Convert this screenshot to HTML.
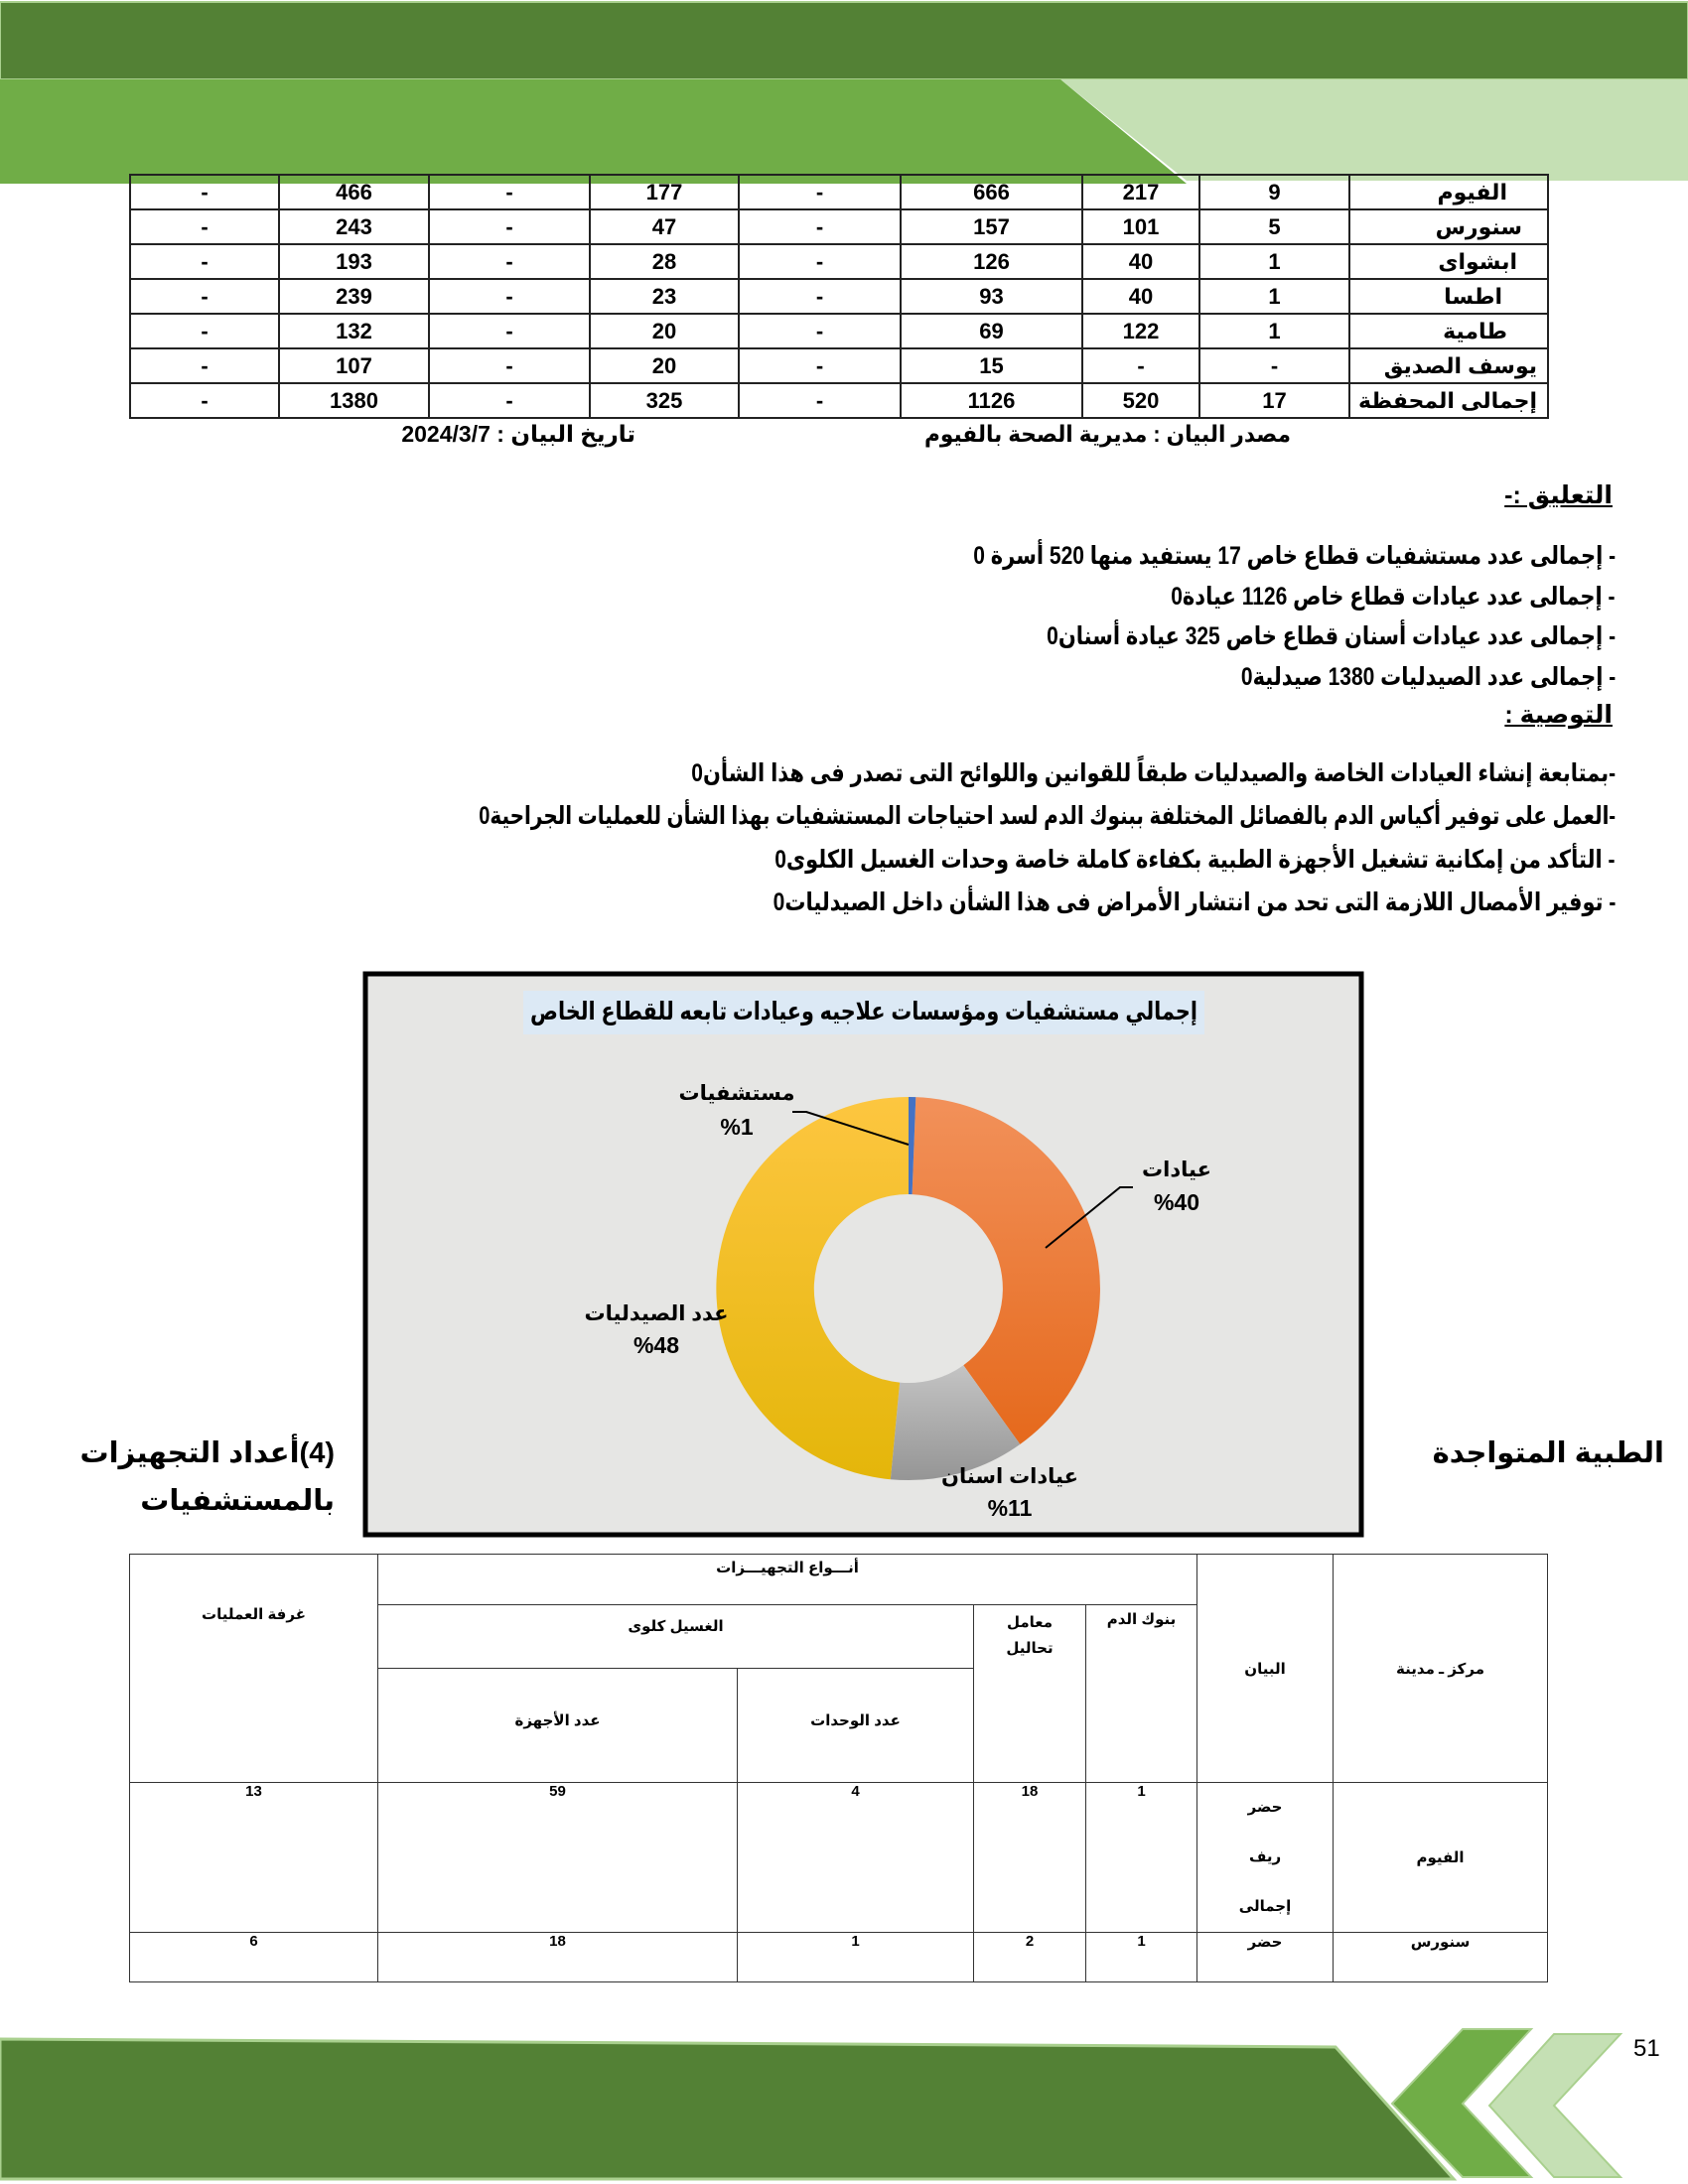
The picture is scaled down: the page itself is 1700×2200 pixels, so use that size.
<!DOCTYPE html>
<html><head><meta charset="utf-8">
<style>
*{margin:0;padding:0;box-sizing:border-box}
body{width:1700px;height:2200px;position:relative;background:#fff;font-family:"Liberation Sans","DejaVu Sans",sans-serif;font-weight:bold;color:#000;overflow:hidden}
.a{position:absolute;white-space:nowrap}
.r{direction:rtl;text-align:right}
table{border-collapse:collapse;position:absolute;table-layout:fixed}
td{border:2px solid #222;text-align:center;font-size:22px;padding:0}
.t2 td{border:1.5px solid #333;font-size:15px;vertical-align:top}
.ln{font-size:25px;direction:rtl;transform:scaleX(0.84);transform-origin:right center}
</style></head><body>
<svg class="a" style="left:0;top:0" width="1700" height="2200">
<defs>
<linearGradient id="go" x1="0" y1="0" x2="0" y2="1"><stop offset="0" stop-color="#f2915a"/><stop offset="1" stop-color="#e5691c"/></linearGradient>
<linearGradient id="gy" x1="0" y1="0" x2="0" y2="1"><stop offset="0" stop-color="#fdc640"/><stop offset="1" stop-color="#e4b60a"/></linearGradient>
<linearGradient id="gg" x1="0" y1="0" x2="0" y2="1"><stop offset="0" stop-color="#c4c4c4"/><stop offset="1" stop-color="#959595"/></linearGradient>
</defs>
<rect x="0" y="2" width="1700" height="78" fill="#538135" stroke="#a9d08e" stroke-width="2"/>
<polygon points="1068,80 1700,80 1700,182 1195,182" fill="#c5e0b4"/>
<polygon points="0,80 1068,80 1195,185 0,185" fill="#70ad47"/>
<polygon points="0,2054 1345,2062 1464,2195 0,2195" fill="#538135" stroke="#a9d08e" stroke-width="3"/>
<polygon points="1473,2044 1542,2044 1473,2119 1542,2193 1473,2193 1402,2119" fill="#70ad47" stroke="#a9d08e" stroke-width="2"/>
<polygon points="1565,2049 1632,2049 1565,2121 1632,2193 1565,2193 1500,2121" fill="#c5e0b4" stroke="#a9d08e" stroke-width="2"/>
<rect x="368" y="981" width="1003" height="565" fill="#e6e6e4" stroke="#000" stroke-width="5"/>
<rect x="527" y="998" width="686" height="44" fill="#dce9f5"/>
<path d="M922.3,1105.1 A193,193 0 0 1 1027.3,1454.9 L970.3,1375.2 A95,95 0 0 0 918.6,1203.1 Z" fill="url(#go)"/>
<path d="M1027.3,1454.9 A193,193 0 0 1 896.8,1490.2 L906.1,1392.6 A95,95 0 0 0 970.3,1375.2 Z" fill="url(#gg)"/>
<path d="M896.8,1490.2 A193,193 0 0 1 915,1105 L915,1203 A95,95 0 0 0 906.1,1392.6 Z" fill="url(#gy)"/>
<path d="M915,1105 A193,193 0 0 1 922.3,1105.1 L918.6,1203.1 A95,95 0 0 0 915,1203 Z" fill="#4472c4"/>
<polyline points="798,1120 812,1120 915,1153" fill="none" stroke="#000" stroke-width="2"/>
<polyline points="1141,1196 1128,1196 1053,1257" fill="none" stroke="#000" stroke-width="2"/>
</svg>

<table style="left:130px;top:175px;width:1428px">
<colgroup><col style="width:150px"><col style="width:151px"><col style="width:162px"><col style="width:150px"><col style="width:163px"><col style="width:183px"><col style="width:118px"><col style="width:151px"><col style="width:200px"></colgroup>
<tr style="height:35px"><td>-</td><td>466</td><td>-</td><td>177</td><td>-</td><td>666</td><td>217</td><td>9</td><td class="r" style="padding-right:40px">الفيوم</td></tr>
<tr style="height:35px"><td>-</td><td>243</td><td>-</td><td>47</td><td>-</td><td>157</td><td>101</td><td>5</td><td class="r" style="padding-right:25px">سنورس</td></tr>
<tr style="height:35px"><td>-</td><td>193</td><td>-</td><td>28</td><td>-</td><td>126</td><td>40</td><td>1</td><td class="r" style="padding-right:30px">ابشواى</td></tr>
<tr style="height:35px"><td>-</td><td>239</td><td>-</td><td>23</td><td>-</td><td>93</td><td>40</td><td>1</td><td class="r" style="padding-right:45px">اطسا</td></tr>
<tr style="height:35px"><td>-</td><td>132</td><td>-</td><td>20</td><td>-</td><td>69</td><td>122</td><td>1</td><td class="r" style="padding-right:40px">طامية</td></tr>
<tr style="height:35px"><td>-</td><td>107</td><td>-</td><td>20</td><td>-</td><td>15</td><td>-</td><td>-</td><td class="r" style="padding-right:10px">يوسف الصديق</td></tr>
<tr style="height:35px"><td>-</td><td>1380</td><td>-</td><td>325</td><td>-</td><td>1126</td><td>520</td><td>17</td><td class="r" style="padding-right:10px">إجمالى المحفظة</td></tr>
</table>
<div class="a r" style="left:925px;top:424px;width:375px;font-size:23px;transform:scaleX(0.94);transform-origin:right center">مصدر البيان : مديرية الصحة  بالفيوم</div>
<div class="a r" style="left:380px;top:424px;width:260px;font-size:23px">تاريخ البيان : 2024/3/7</div>

<div class="a r" style="right:76px;top:484px;font-size:25px;text-decoration:underline">التعليق :-</div>
<div class="a ln" style="right:73px;top:545px">- إجمالى عدد مستشفيات قطاع خاص 17 يستفيد منها 520 أسرة 0</div>
<div class="a ln" style="right:73px;top:586px">- إجمالى عدد عيادات قطاع خاص 1126 عيادة0</div>
<div class="a ln" style="right:73px;top:626px">- إجمالى عدد عيادات أسنان قطاع خاص 325 عيادة أسنان0</div>
<div class="a ln" style="right:73px;top:667px">- إجمالى عدد الصيدليات 1380 صيدلية0</div>
<div class="a r" style="right:76px;top:705px;font-size:25px;text-decoration:underline">التوصية :</div>
<div class="a ln" style="right:73px;top:764px">-بمتابعة إنشاء العيادات الخاصة والصيدليات طبقاً للقوانين واللوائح التى تصدر فى هذا الشأن0</div>
<div class="a ln" style="right:73px;top:807px;transform:scaleX(0.8)">-العمل على توفير أكياس الدم بالفصائل المختلفة ببنوك الدم لسد احتياجات المستشفيات بهذا الشأن للعمليات الجراحية0</div>
<div class="a ln" style="right:73px;top:851px">- التأكد من إمكانية تشغيل الأجهزة الطبية بكفاءة كاملة خاصة وحدات الغسيل الكلوى0</div>
<div class="a ln" style="right:73px;top:894px">- توفير الأمصال اللازمة التى تحد من انتشار الأمراض فى هذا الشأن داخل الصيدليات0</div>

<div class="a" style="left:427px;top:1004px;width:886px;text-align:center;direction:rtl;font-size:25px;transform:scaleX(0.83)">إجمالي مستشفيات ومؤسسات علاجيه وعيادات تابعه للقطاع الخاص</div>
<div class="a" style="left:662px;top:1089px;width:160px;text-align:center;font-size:21px;direction:rtl">مستشفيات</div>
<div class="a" style="left:662px;top:1122px;width:160px;text-align:center;font-size:23px;direction:rtl">%1</div>
<div class="a" style="left:1105px;top:1166px;width:160px;text-align:center;font-size:21px;direction:rtl">عيادات</div>
<div class="a" style="left:1105px;top:1198px;width:160px;text-align:center;font-size:23px;direction:rtl">%40</div>
<div class="a" style="left:561px;top:1311px;width:200px;text-align:center;font-size:21px;direction:rtl">عدد الصيدليات</div>
<div class="a" style="left:561px;top:1342px;width:200px;text-align:center;font-size:23px;direction:rtl">%48</div>
<div class="a" style="left:917px;top:1475px;width:200px;text-align:center;font-size:21px;direction:rtl">عيادات اسنان</div>
<div class="a" style="left:917px;top:1506px;width:200px;text-align:center;font-size:23px;direction:rtl">%11</div>

<div class="a r" style="right:24px;top:1446px;font-size:29px">الطبية المتواجدة</div>
<div class="a r" style="right:1363px;top:1446px;font-size:29px">(4)أعداد التجهيزات</div>
<div class="a r" style="right:1363px;top:1494px;font-size:29px">بالمستشفيات</div>

<table class="t2" style="left:130px;top:1565px;width:1428px">
<colgroup><col style="width:250px"><col style="width:362px"><col style="width:238px"><col style="width:113px"><col style="width:112px"><col style="width:137px"><col style="width:216px"></colgroup>
<tr style="height:51px"><td rowspan="3" style="vertical-align:middle;padding-bottom:110px">غرفة العمليات</td><td colspan="4" style="padding-top:4px">أنـــواع التجهيـــزات</td><td rowspan="3" style="vertical-align:middle">البيان</td><td rowspan="3" style="vertical-align:middle">مركز ـ مدينة</td></tr>
<tr style="height:64px"><td colspan="2" style="padding-top:12px">الغسيل كلوى</td><td rowspan="2" style="padding-top:5px;line-height:26px">معامل<br>تحاليل</td><td rowspan="2" style="padding-top:5px">بنوك الدم</td></tr>
<tr style="height:115px"><td style="vertical-align:middle;padding-bottom:10px">عدد الأجهزة</td><td style="vertical-align:middle;padding-bottom:10px">عدد الوحدات</td></tr>
<tr style="height:151px"><td>13</td><td>59</td><td>4</td><td>18</td><td>1</td><td style="line-height:50px">حضر<br>ريف<br>إجمالى</td><td style="vertical-align:middle">الفيوم</td></tr>
<tr style="height:50px"><td>6</td><td>18</td><td>1</td><td>2</td><td>1</td><td>حضر</td><td>سنورس</td></tr>
</table>

<div class="a" style="left:1645px;top:2050px;font-size:24px;font-weight:normal">51</div>
</body></html>
